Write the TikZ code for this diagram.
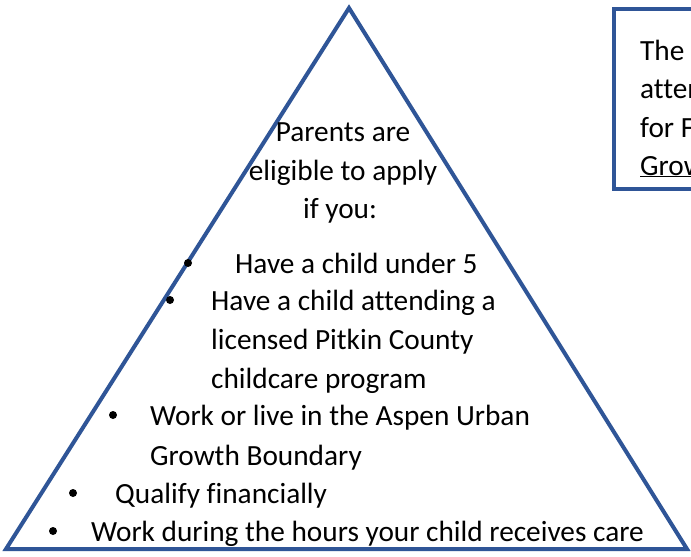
\documentclass[tikz,border=0pt]{standalone}
\usepackage{fontspec}
\setmainfont[Ligatures=NoCommon]{Carlito}
\definecolor{edgeblue}{HTML}{2F5597}
\begin{document}
\begin{tikzpicture}[x=1pt,y=-1pt,
  txt/.style={anchor=base west,inner sep=0pt,font=\fontsize{29.3}{36}\selectfont},
  ctxt/.style={anchor=base,inner sep=0pt,font=\fontsize{29.3}{36}\selectfont},
  bul/.style={circle,fill=black,inner sep=0pt,minimum size=8pt},
  frame/.style={draw=edgeblue,line width=4pt,line join=miter}]
\useasboundingbox (0,0) rectangle (691,557);
\fill[white] (0,0) rectangle (691,557);
% triangle
\coordinate (apex) at (349,8);
\coordinate (bl) at (6,549);
\coordinate (br) at (687,549);
\draw[frame] (apex) -- (br) -- (bl) -- cycle;
% right box
\draw[frame] (614,9) rectangle (720,189);
\node[txt] (b1) at (640,60) {The};
\node[txt] (b2) at (640,98) {atten};
\node[txt] (b3) at (640,137) {for F};
\node[txt] (b4) at (640,175) {\underline{Grow}};
% heading
\node[ctxt] (h1) at (343,141) {Parents are};
\node[ctxt] (h2) at (343,180) {eligible to apply};
\node[ctxt] (h3) at (340,218) {if you:};
% bullets
\node[bul] (d1) at (188,263) {};
\node[txt] (t1) at (235,273) {Have a child under 5};
\node[bul] (d2) at (170,300) {};
\node[txt] (t2) at (211,310) {Have a child attending a};
\node[txt] (t2b) at (211,349) {licensed Pitkin County};
\node[txt] (t2c) at (211,388) {childcare program};
\node[bul] (d3) at (113,415) {};
\node[txt] (t3) at (150,425) {Work or live in the Aspen Urban};
\node[txt] (t3b) at (150,465) {Growth Boundary};
\node[bul] (d4) at (73,493) {};
\node[txt] (t4) at (115,503) {Qualify financially};
\node[bul] (d5) at (53,531) {};
\node[txt] (t5) at (91,541) {Work during the hours your child receives care};
\end{tikzpicture}
\end{document}
